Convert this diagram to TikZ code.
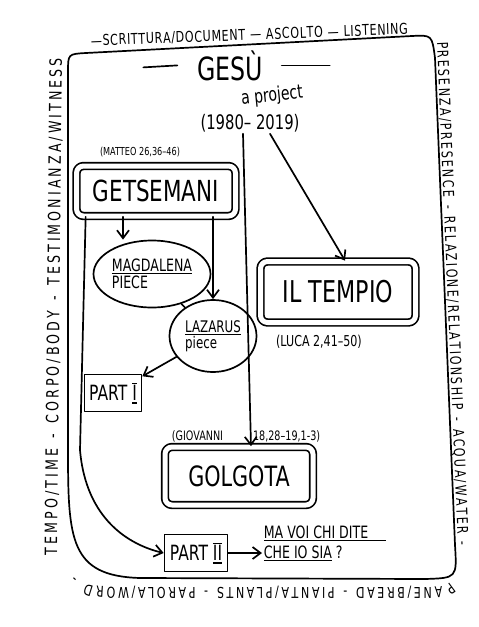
\documentclass[tikz,border=0pt]{standalone}
\usepackage{fontspec}
\usepackage{tikz}
\usetikzlibrary{arrows.meta,shapes.geometric,decorations.text}

\newfontfamily\hand[FakeStretch=0.74]{DejaVu Sans}
\newcommand\hw[1]{\hand\fontsize{#1}{#1}\selectfont}
\newcommand\rimfont{\hand\fontsize{15}{15}\selectfont}
\newcommand\rimfontbig{\hand\fontsize{17}{17}\selectfont}
\newcommand\romnum[1]{\setbox0=\hbox{#1}\rlap{\rule[-3pt]{\wd0}{1.2pt}}\rlap{\rule[\dimexpr\ht0+1.5pt\relax]{\wd0}{1.2pt}}\box0}

\begin{document}
\begin{tikzpicture}[x=1pt,y=-1pt,line width=1.7pt,line cap=round,line join=round,
                    >={Straight Barb[length=8pt,width=12pt]}]
  \tikzstyle{bigbox}=[draw,double,double distance=5pt,rounded corners=7pt,inner sep=0pt]
  \tikzstyle{smallbox}=[draw,inner sep=0pt,font=\hw{21}]
  \tikzstyle{blob}=[draw,ellipse,inner sep=0pt,align=left]
  \tikzstyle{note}=[inner sep=1pt]
  \tikzstyle{rim}=[decorate,decoration={text along path,text align=fit to path}]

  \useasboundingbox (0,0) rectangle (479,627);

  % frame round the whole project
  \draw (68,300) -- (68,72) .. controls (68,54) .. (86,53) -- (412,36)
        .. controls (432,35) .. (435,58) -- (455,545) .. controls (457,578) .. (425,579)
        -- (140,578) .. controls (70,576) and (68,540) .. (68,450) -- cycle;

  % words written round the frame
  \path[rim,decoration={text={|\rimfont|—SCRITTURA/DOCUMENT — ASCOLTO — LISTENING}}]
        (91,46) -- (408,34);
  \path[rim,decoration={text={|\rimfont|PRESENZA/PRESENCE - RELAZIONE/RELATIONSHIP - ACQUA/WATER -}}]
        (437,42) -- (458,546);
  \path[rim,decoration={text={|\rimfont|PANE/BREAD - PIANTA/PLANTS - PAROLA/WORD -}}]
        (450,582) .. controls (444,587) .. (425,587) -- (115,587) .. controls (88,586) .. (76,575);
  \path[rim,decoration={text={|\rimfontbig|TEMPO/TIME - CORPO/BODY - TESTIMONIANZA/WITNESS}}]
        (57,555) -- (62,58);

  % title
  \node[note,font=\hw{32},anchor=base] (title) at (230,80) {GESÙ};
  \draw ([xshift=-18pt]title.west) -- ++(-34,2);
  \draw ([xshift=17pt]title.east) -- ++(48,0);
  \node[note,inner sep=0pt,font=\hw{19},rotate=6] (proj) at (272,96) {a project};
  \node[note,font=\hw{20}] (years) at (250,123) {(1980– 2019)};

  % scenes
  \node[bigbox,minimum width=159pt,minimum height=50pt,font=\hw{29}] (getsemani) at (156,191) {GETSEMANI};
  \node[note,font=\hw{11}] (mat) at (140,152) {(MATTEO 26,36–46)};
  \node[blob,minimum width=117pt,minimum height=67pt,font=\hw{17}] (magda) at (152,274) {\underline{MAGDALENA}\\PIECE};
  \node[blob,minimum width=87pt,minimum height=72pt,font=\hw{16}] (lazarus) at (213,336) {\underline{LAZARUS}\\piece};
  \node[smallbox,minimum width=57pt,minimum height=37pt] (part1) at (113,393) {PART \romnum{I}};
  \node[bigbox,minimum width=155pt,minimum height=61pt,font=\hw{30}] (tempio) at (338,292) {IL TEMPIO};
  \node[note,font=\hw{15}] (luca) at (319,342) {(LUCA 2,41–50)};
  \node[bigbox,minimum width=148pt,minimum height=58pt,font=\hw{28}] (golgota) at (239,476) {GOLGOTA};
  \node[note,font=\hw{13},anchor=west] (giov) at (170,436) {(GIOVANNI\hspace{30pt}18,28–19,1-3)};
  \node[smallbox,minimum width=63pt,minimum height=37pt] (part2) at (196,553) {PART \romnum{II}};
  \node[note,font=\hw{17},align=left,anchor=west] (ask) at (262,543)
       {\underline{MA VOI CHI DITE\hspace{18pt}}\\[3pt]\underline{CHE IO SIA}~?};

  % links
  \draw[->] ([xshift=-7pt]years.south) -- ([xshift=12pt]golgota.north);
  \draw[->] ([xshift=20pt]years.south) -- ([xshift=7pt]tempio.north);
  \draw[->] ([xshift=-33pt]getsemani.south) -- ([xshift=-29pt]magda.north);
  \draw[->] (getsemani.south -| lazarus.north) -- (lazarus.north);
  \draw (magda) -- (lazarus);
  \draw[->] (lazarus) -- (part1);
  \draw[->] ([xshift=10pt]getsemani.south west) -- (80,450)
        .. controls (86,520) and (130,545) .. (part2.west);
  \draw[->] (part2) -- (part2 -| ask.west);
\end{tikzpicture}
\end{document}
